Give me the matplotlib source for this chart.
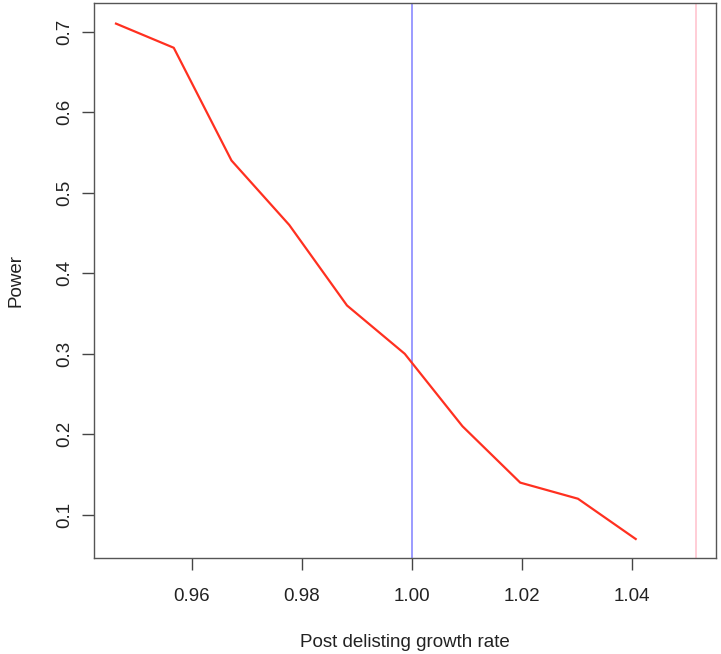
import matplotlib
matplotlib.use("Agg")
import matplotlib.pyplot as plt

# Power curve across post-delisting growth rates
growth_rate = [0.9462, 0.9567, 0.9672, 0.9777, 0.9882, 0.9987, 1.0092, 1.0197, 1.0302, 1.0407]
power = [0.71, 0.68, 0.54, 0.46, 0.36, 0.30, 0.21, 0.14, 0.12, 0.07]
null_rate = 1.00
reference_rate = 1.0516

xticks = [0.96, 0.98, 1.00, 1.02, 1.04]
yticks = [0.1, 0.2, 0.3, 0.4, 0.5, 0.6, 0.7]

plt.rcParams['font.family'] = ['Liberation Sans', 'DejaVu Sans']

fig = plt.figure(figsize=(7.21, 6.54), dpi=100)
ax = fig.add_axes([94 / 721, 1 - 558 / 654, (716 - 94) / 721, (558 - 3) / 654])

ax.plot(growth_rate, power, color='#ff3020', lw=1.6, zorder=3)
ax.axvline(null_rate, color='#8080ff', lw=1.1, zorder=2)
ax.axvline(reference_rate, color='#ffc0cb', lw=1.1, zorder=2)

ax.set_xlim(0.9422, 1.0553)
ax.set_ylim(0.0464, 0.7356)
ax.set_xticks(xticks)
ax.set_xticklabels([f"{v:.2f}" for v in xticks])
ax.set_yticks(yticks)
ax.set_yticklabels([f"{v:.1f}" for v in yticks], rotation=90, va='center')

for s in ax.spines.values():
    s.set_color('#555555')
    s.set_linewidth(1.0)
ax.tick_params(axis='both', direction='out', length=8.5, width=1.0, color='#444444',
               labelsize=13.5, labelcolor='#222222')
ax.tick_params(axis='x', pad=13)
ax.tick_params(axis='y', pad=6.5)

ax.set_xlabel("Post delisting growth rate", fontsize=13.5, color='#222222', labelpad=21)
ax.set_ylabel("Power", fontsize=13.5, color='#222222', labelpad=23)

fig.savefig("out.png", dpi=100)
